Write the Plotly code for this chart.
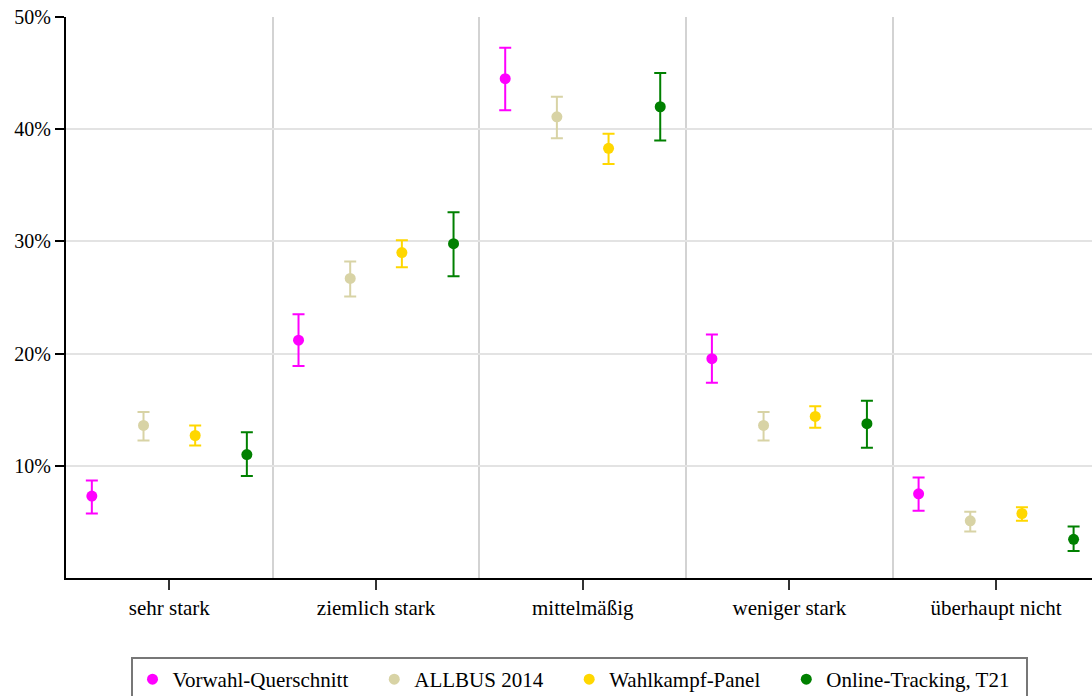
import plotly.graph_objects as go

categories = ["sehr stark", "ziemlich stark", "mittelmäßig", "weniger stark", "überhaupt nicht"]
series_names = ["Vorwahl-Querschnitt", "ALLBUS 2014", "Wahlkampf-Panel", "Online-Tracking, T21"]
colors = ["#ff00ff", "#d8d3a5", "#ffd700", "#008000"]

vorwahl = [7.3, 21.2, 44.5, 19.55, 7.5]
vorwahl_hi = [8.7, 23.5, 47.25, 21.7, 8.95]
vorwahl_lo = [5.75, 18.9, 41.7, 17.4, 6.0]

allbus = [13.6, 26.7, 41.1, 13.6, 5.1]
allbus_hi = [14.8, 28.2, 42.9, 14.8, 5.9]
allbus_lo = [12.25, 25.1, 39.2, 12.25, 4.15]

panel = [12.7, 29.0, 38.3, 14.4, 5.75]
panel_hi = [13.6, 30.1, 39.6, 15.3, 6.3]
panel_lo = [11.8, 27.7, 36.9, 13.4, 5.1]

tracking = [11.0, 29.8, 42.0, 13.75, 3.45]
tracking_hi = [13.0, 32.6, 45.0, 15.8, 4.6]
tracking_lo = [9.1, 26.9, 39.0, 11.6, 2.4]

y_ticks = [10, 20, 30, 40, 50]
y_ticktext = ["10%", "20%", "30%", "40%", "50%"]

series = [
    (vorwahl, vorwahl_hi, vorwahl_lo),
    (allbus, allbus_hi, allbus_lo),
    (panel, panel_hi, panel_lo),
    (tracking, tracking_hi, tracking_lo),
]

FONT = "Liberation Serif"
NB = "\u00a0"
fig = go.Figure()
n = len(series)
for k, (vals, hi, lo) in enumerate(series):
    off = (k - (n - 1) / 2) * 0.25
    xs = [i + off for i in range(len(categories))]
    label = series_names[k] + (NB * 4 if k < n - 1 else NB * 2)
    fig.add_trace(go.Scatter(
        x=xs, y=vals, mode="markers", name=label,
        marker=dict(color=colors[k], size=11),
        error_y=dict(type="data", symmetric=False,
                     array=[h - v for h, v in zip(hi, vals)],
                     arrayminus=[v - l for v, l in zip(vals, lo)],
                     color=colors[k], thickness=2, width=6),
    ))

fig.update_layout(
    width=1092, height=696,
    margin=dict(l=66, r=0, t=17, b=118, autoexpand=False),
    plot_bgcolor="white", paper_bgcolor="white",
    font=dict(family=FONT, size=20, color="black"),
    showlegend=True,
    legend=dict(orientation="h", x=0.5, xanchor="center", y=-0.1408, yanchor="top",
                bordercolor="#777777", borderwidth=2, font=dict(size=21, family=FONT),
                itemwidth=30, traceorder="normal"),
    xaxis=dict(range=[-0.5, 4.464], tickvals=list(range(len(categories))),
               ticktext=categories, showgrid=False, zeroline=False,
               showline=True, linecolor="black", linewidth=2,
               ticks="outside", ticklen=10, tickwidth=2, tickcolor="#333333",
               minor=dict(tickvals=[i + 0.5 for i in range(len(categories) - 1)],
                          showgrid=True, gridcolor="#d3d3d3", gridwidth=2, ticks=""),
               tickfont=dict(size=21, family=FONT)),
    yaxis=dict(range=[0, 50], tickvals=y_ticks, ticktext=y_ticktext,
               showgrid=True, gridcolor="#e3e3e3", gridwidth=2, zeroline=False,
               showline=True, linecolor="black", linewidth=2,
               ticks="outside", ticklen=9, tickwidth=2, tickcolor="black",
               tickfont=dict(size=20, family=FONT)),
)

fig.write_html("out.html")
